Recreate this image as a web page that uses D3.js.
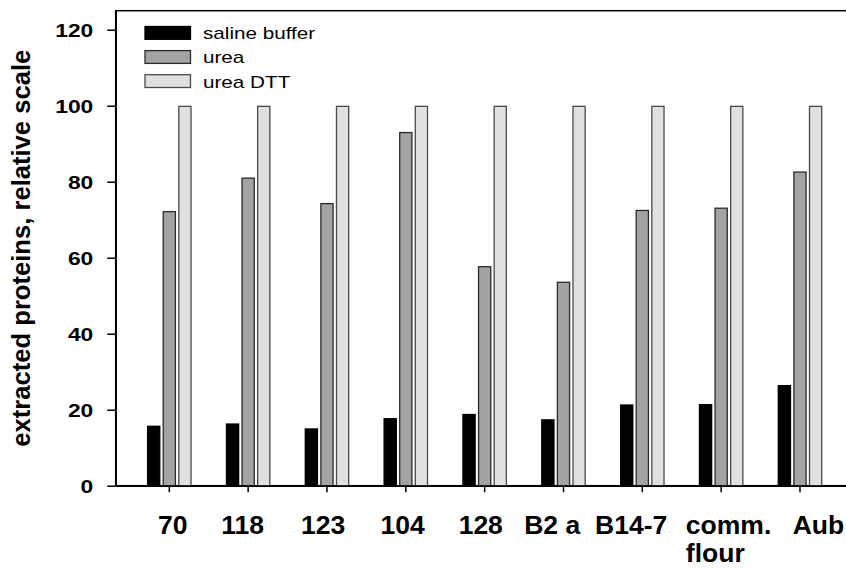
<!DOCTYPE html>
<html>
<head>
<meta charset="utf-8">
<script src="https://cdn.jsdelivr.net/npm/d3@7"></script>
<style>
  html, body { margin: 0; padding: 0; background: #fff; }
  svg { display: block; }
</style>
</head>
<body>
<svg id="chart" width="846" height="568"></svg>
<script>
// ---- data ----
const categories = ["70", "118", "123", "104", "128", "B2 a", "B14-7", "comm.\nflour", "Aub"];
const seriesNames = ["saline buffer", "urea", "urea DTT"];
const salineBuffer = [15.8, 16.4, 15.1, 17.8, 18.9, 17.5, 21.4, 21.5, 26.5];
const urea = [72.3, 81.1, 74.4, 93.1, 57.8, 53.7, 72.6, 73.2, 82.7];
const ureaDTT = [100, 100, 100, 100, 100, 100, 100, 100, 100];
const yTicks = [0, 20, 40, 60, 80, 100, 120];
const yLabel = "extracted proteins, relative scale";

// ---- layout / style ----
const W = 846, H = 568;
const plot = { left: 115.7, top: 10.7, right: 853.6, bottom: 485.7 };
const fills = ["#000000", "#a3a3a3", "#e0e0e0"];
const strokes = ["#000000", "#2a2a2a", "#4a4a4a"];
const labelLeftOffset = [-11.4, -27, -26, -25.3, -26, -39.3, -47.3, -35.3, -7.3];

const values = [salineBuffer, urea, ureaDTT];
const svg = d3.select("#chart");

const x = d3.scaleBand().domain(categories).range([plot.left, plot.right])
  .paddingInner(0).paddingOuter(0.18);
const x1 = d3.scaleBand().domain(seriesNames).range([-22.35, 22.35])
  .paddingInner(0.135).paddingOuter(0);
const y = d3.scaleLinear().domain([0, 125]).range([plot.bottom, plot.top]);

// frame (top + right extend beyond visible area)
svg.append("rect")
  .attr("x", plot.left).attr("y", plot.top)
  .attr("width", plot.right - plot.left).attr("height", plot.bottom - plot.top)
  .attr("fill", "none").attr("stroke", "#000").attr("stroke-width", 1.5);

// bars
const sw = 1.3;
seriesNames.forEach((s, si) => {
  svg.append("g").selectAll("rect")
    .data(categories.map((c, i) => ({ c, v: values[si][i] })))
    .join("rect")
    .attr("x", d => x(d.c) + x.bandwidth() / 2 + x1(s) + sw / 2)
    .attr("y", d => y(d.v) + sw / 2)
    .attr("width", x1.bandwidth() - sw)
    .attr("height", d => y(0) - y(d.v) - sw / 2)
    .attr("fill", fills[si])
    .attr("stroke", strokes[si])
    .attr("stroke-width", sw);
});

// y axis
const yAxis = svg.append("g")
  .attr("transform", `translate(${plot.left},0)`)
  .call(d3.axisLeft(y).tickValues(yTicks).tickSize(8.5).tickSizeOuter(0).tickFormat(d3.format("d")));
yAxis.select(".domain").attr("stroke", "#000").attr("stroke-width", 1.5);
yAxis.selectAll(".tick line").attr("stroke", "#000").attr("stroke-width", 1.5);
yAxis.selectAll(".tick text")
  .attr("x", null).attr("dy", null)
  .attr("text-anchor", "end")
  .attr("font-family", "'Liberation Sans', Arial, sans-serif")
  .attr("font-weight", "bold")
  .attr("font-size", 17.7)
  .attr("fill", "#000")
  .attr("transform", "translate(-22.4,6.4) scale(1.29,1)");

// x axis
const xAxis = svg.append("g")
  .attr("transform", `translate(0,${plot.bottom})`)
  .call(d3.axisBottom(x).tickSize(6.5).tickSizeOuter(0).tickFormat(""));
xAxis.select(".domain").attr("stroke", "#000").attr("stroke-width", 1.5);
xAxis.selectAll(".tick line").attr("stroke", "#000").attr("stroke-width", 1.5);

// x labels
const xl = svg.append("g");
categories.forEach((c, i) => {
  const t = xl.append("text")
    .attr("x", x(c) + x.bandwidth() / 2 + labelLeftOffset[i])
    .attr("y", 533.5)
    .attr("text-anchor", "start")
    .attr("font-family", "'Liberation Sans', Arial, sans-serif")
    .attr("font-weight", "bold")
    .attr("font-size", 26.5)
    .attr("fill", "#000");
  c.split("\n").forEach((line, li) => {
    t.append("tspan")
      .attr("x", x(c) + x.bandwidth() / 2 + labelLeftOffset[i])
      .attr("dy", li === 0 ? 0 : 28.5)
      .text(line);
  });
});

// y label
svg.append("text")
  .attr("transform", `translate(29.5,${(plot.top + plot.bottom) / 2}) rotate(-90)`)
  .attr("text-anchor", "middle")
  .attr("font-family", "'Liberation Sans', Arial, sans-serif")
  .attr("font-weight", "bold")
  .attr("font-size", 25.6)
  .attr("fill", "#000")
  .text(yLabel);

// legend
const lg = svg.append("g");
seriesNames.forEach((s, i) => {
  const yy = 26.5 + i * 24.1;
  lg.append("rect")
    .attr("x", 145).attr("y", yy)
    .attr("width", 45.5).attr("height", 12.8)
    .attr("fill", fills[i]).attr("stroke", strokes[i]).attr("stroke-width", 1.3);
  lg.append("text")
    .attr("transform", `translate(203,${yy + 12.8}) scale(1.23,1)`)
    .attr("font-family", "'Liberation Sans', Arial, sans-serif")
    .attr("font-size", 16.8)
    .attr("fill", "#000")
    .text(s);
});
</script>
</body>
</html>
